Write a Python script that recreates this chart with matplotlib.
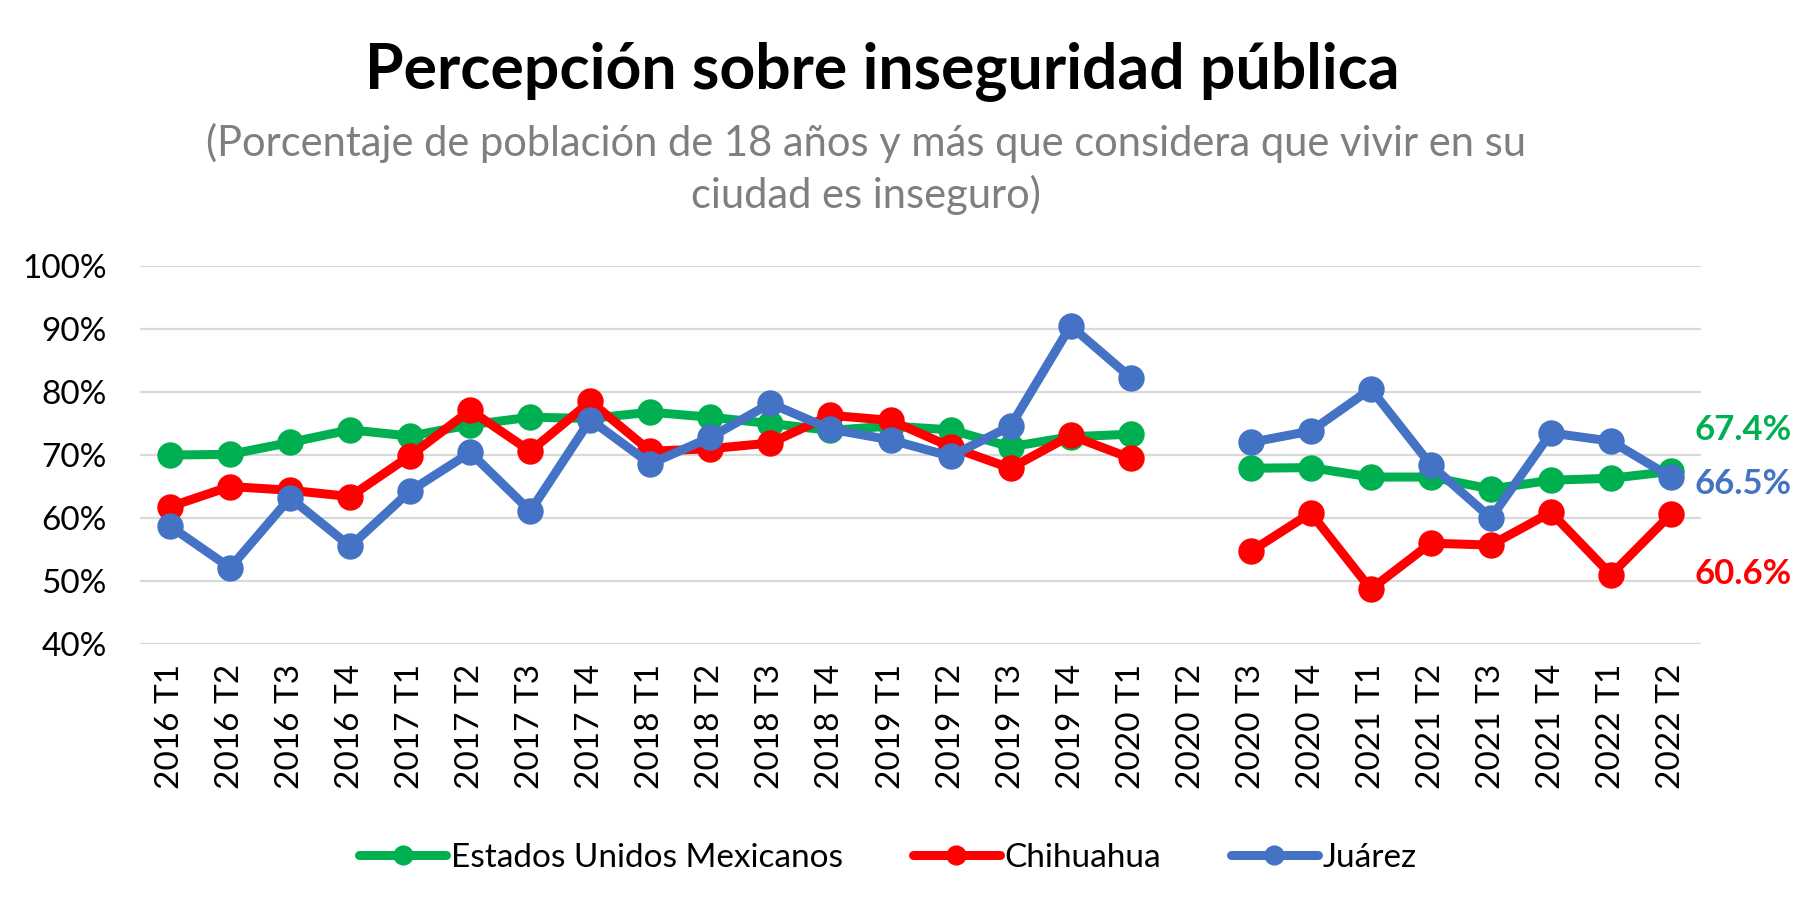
import numpy as np
import matplotlib
matplotlib.use("Agg")
import matplotlib.pyplot as plt

plt.rcParams['font.family'] = ['Lato', 'DejaVu Sans']

periods = ["2016 T1", "2016 T2", "2016 T3", "2016 T4",
           "2017 T1", "2017 T2", "2017 T3", "2017 T4",
           "2018 T1", "2018 T2", "2018 T3", "2018 T4",
           "2019 T1", "2019 T2", "2019 T3", "2019 T4",
           "2020 T1", "2020 T2", "2020 T3", "2020 T4",
           "2021 T1", "2021 T2", "2021 T3", "2021 T4",
           "2022 T1", "2022 T2"]

nacional = [70.0, 70.1, 72.0, 74.0, 73.0, 74.8, 76.0, 75.8, 76.8, 76.0,
            75.0, 73.9, 74.6, 74.0, 71.3, 72.9, 73.3, np.nan,
            67.9, 68.0, 66.5, 66.5, 64.6, 66.0, 66.3, 67.4]
chihuahua = [61.8, 65.0, 64.4, 63.4, 69.9, 77.1, 70.6, 78.5, 70.6, 71.0,
             71.9, 76.3, 75.5, 71.3, 67.9, 73.1, 69.5, np.nan,
             54.7, 60.8, 48.7, 56.0, 55.7, 60.9, 51.0, 60.6]
juarez = [58.7, 52.1, 63.2, 55.5, 64.3, 70.4, 61.1, 75.6, 68.6, 72.8,
          78.2, 74.1, 72.4, 69.8, 74.6, 90.5, 82.3, np.nan,
          72.0, 73.8, 80.5, 68.4, 60.0, 73.5, 72.2, 66.5]

series = [
    ("Estados Unidos Mexicanos", nacional, "#00B050", 41),
    ("Chihuahua", chihuahua, "#FF0000", -60),
    ("Juárez", juarez, "#4472C4", -7),
]

fig = plt.figure(figsize=(18.05, 9.18), dpi=100)
ax = fig.add_axes([0.0776, 0.2985, 0.8648, 0.4117])

x = np.arange(len(periods))
for label, vals, color, dy in series:
    ax.plot(x, vals, '-o', color=color, lw=6.5, ms=18, label=label,
            solid_capstyle='round', zorder=3)
    ax.annotate(f"{vals[-1]:.1f}%", xy=(x[-1], vals[-1]), xytext=(23, dy),
                textcoords='offset pixels', ha='left', va='center',
                color=color, fontsize=25, fontweight='bold',
                annotation_clip=False)

ax.set_xlim(-0.5, len(periods) - 0.5)
ax.set_ylim(40, 100)
ax.set_yticks(np.arange(40, 101, 10))
ax.set_yticklabels([f"{v}%" for v in range(40, 101, 10)])
ax.set_xticks(x)
ax.set_xticklabels(periods, rotation=90)
ax.tick_params(axis='y', length=0, pad=24, labelsize=24)
ax.tick_params(axis='x', length=0, pad=14, labelsize=24)
ax.grid(axis='y', color='#D9D9D9', lw=1.6)
ax.set_axisbelow(True)
for s in ax.spines.values():
    s.set_visible(False)

fig.text(0.489, 1 - 71 / 918, "Percepción sobre inseguridad pública",
         ha='center', va='center', fontsize=45, fontweight='bold')
fig.text(0.480, 1 - 169 / 918,
         "(Porcentaje de población de 18 años y más que considera que vivir en su\n"
         "ciudad es inseguro)",
         ha='center', va='center', fontsize=30, color='#7F7F7F',
         linespacing=1.38, multialignment='center')

fig.legend(loc='center', bbox_to_anchor=(0.492, 1 - 858 / 918), ncol=3,
           frameon=False, fontsize=24, handlelength=2.6, markerscale=0.75,
           handletextpad=0.15, columnspacing=2.1)

fig.savefig('out.png', dpi=100)
